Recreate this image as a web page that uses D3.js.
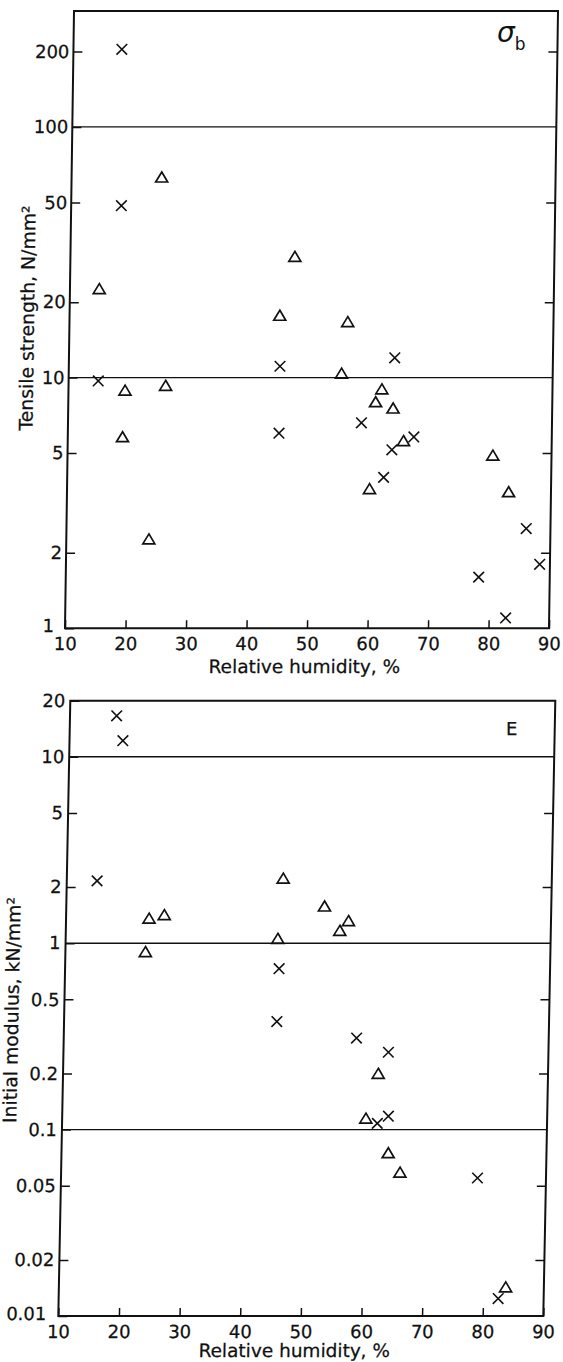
<!DOCTYPE html>
<html>
<head>
<meta charset="utf-8">
<title>Tensile strength and initial modulus vs relative humidity</title>
<script src="https://d3js.org/d3.v7.min.js"></script>
<style>
  body { margin: 0; background: #fff; }
  svg { display: block; font-family: "DejaVu Sans", sans-serif; }
  .domain { display: none; }
  .tick line { stroke: #111; stroke-width: 1.5; }
  .tick text { font-size: 18px; fill: #111; stroke: #111; stroke-width: 0.25; font-family: "DejaVu Sans", sans-serif; }
  .title { stroke: #111; stroke-width: 0.25; }
</style>
</head>
<body>
<svg width="563" height="1362"></svg>
<script>
// relative humidity axis, %
var humTicks = [10, 20, 30, 40, 50, 60, 70, 80, 90];

// top panel: tensile strength (sigma_b), N/mm2
var sigmaTicks = [1, 2, 5, 10, 20, 50, 100, 200];
var sigmaSideTicks = [2, 5, 20, 50, 200];
var sigmaLines = [10, 100];
var sigmaCrossX = [18.0, 18.3, 14.9, 44.9, 44.9, 63.85, 58.5, 63.6, 67.2, 62.3, 86.0, 88.3, 78.25, 82.8];
var sigmaCrossY = [204, 48.5, 9.7, 11.1, 6.0, 12.0, 6.6, 5.15, 5.8, 4.0, 2.5, 1.8, 1.6, 1.1];
var sigmaTriX = [14.85, 24.9, 19.05, 19.35, 26.05, 23.65, 44.75, 47.1, 56.0, 55.1, 61.8, 60.8, 63.7, 65.5, 60.0, 80.3, 83.0];
var sigmaTriY = [22.6, 63, 5.8, 8.9, 9.3, 2.27, 17.7, 30.4, 16.7, 10.4, 9.0, 8.0, 7.55, 5.6, 3.6, 4.9, 3.5];

// bottom panel: initial modulus (E), kN/mm2
var modTicks = [0.01, 0.02, 0.05, 0.1, 0.2, 0.5, 1, 2, 5, 10, 20];
var modSideTicks = [0.02, 0.05, 0.2, 0.5, 2, 5];
var modLines = [0.1, 1, 10];
var modCrossX = [17.7, 18.8, 15.0, 45.3, 45.1, 58.3, 63.6, 63.8, 62.0, 78.7, 82.5];
var modCrossY = [16.6, 12.2, 2.16, 0.73, 0.38, 0.31, 0.26, 0.118, 0.108, 0.055, 0.0124];
var modTriX = [23.7, 26.2, 23.2, 45.7, 45.0, 52.6, 56.6, 55.2, 62.0, 60.1, 63.9, 65.9, 83.7];
var modTriY = [1.36, 1.42, 0.90, 2.23, 1.06, 1.58, 1.32, 1.17, 0.20, 0.115, 0.075, 0.059, 0.0143];

var svg = d3.select("svg");
var ink = "#111";

function zip(xs, ys) {
  return xs.map(function(d, i) { return [d, ys[i]]; });
}

function panel(cfg) {
  // the scanned figure leans slightly, so each panel is sheared about its base
  var g = svg.append("g")
    .attr("transform", "translate(0," + cfg.bottom + ") skewX(" + cfg.skew + ") translate(0," + (-cfg.bottom) + ")");

  var x = d3.scaleLinear().domain([10, 90]).range([cfg.left, cfg.right]);
  var y = d3.scaleLog().domain(cfg.yDomain).range([cfg.bottom, cfg.top]);

  // full-width rules at the decades
  g.selectAll("line.rule").data(cfg.lines).enter()
    .append("line")
    .attr("class", "rule")
    .attr("x1", cfg.left).attr("x2", cfg.right)
    .attr("y1", function(d) { return y(d); })
    .attr("y2", function(d) { return y(d); })
    .attr("stroke", ink).attr("stroke-width", 1.4);

  var yAxis = g.append("g")
    .attr("transform", "translate(" + cfg.left + ",0)")
    .call(d3.axisLeft(y).tickValues(cfg.ticks).tickSize(-9).tickPadding(cfg.ypad)
      .tickFormat(function(d) { return String(d); }));

  // lowest label sits a little off the corner, clear of the "10"
  yAxis.selectAll(".tick text")
    .filter(function(d) { return d === cfg.yDomain[0]; })
    .attr("dx", -7).attr("dy", "0.2em");

  g.append("g")
    .attr("transform", "translate(" + cfg.right + ",0)")
    .call(d3.axisRight(y).tickValues(cfg.sideTicks).tickSize(-9).tickFormat(""));

  g.append("g")
    .attr("transform", "translate(0," + cfg.bottom + ")")
    .call(d3.axisBottom(x).tickValues(humTicks).tickSize(-8).tickPadding(9));

  g.append("rect")
    .attr("x", cfg.left).attr("y", cfg.top)
    .attr("width", cfg.right - cfg.left).attr("height", cfg.bottom - cfg.top)
    .attr("fill", "none").attr("stroke", ink).attr("stroke-width", 2);

  // crosses
  g.selectAll("path.cross").data(cfg.crosses).enter()
    .append("path")
    .attr("class", "cross")
    .attr("transform", function(d) { return "translate(" + x(d[0]) + "," + y(d[1]) + ")"; })
    .attr("d", "M-5.3,-5.3L5.3,5.3M-5.3,5.3L5.3,-5.3")
    .attr("stroke", ink).attr("stroke-width", 1.6).attr("fill", "none");

  // triangles
  g.selectAll("path.tri").data(cfg.tris).enter()
    .append("path")
    .attr("class", "tri")
    .attr("transform", function(d) { return "translate(" + x(d[0]) + "," + y(d[1]) + ")"; })
    .attr("d", "M0,-5.2L6,4.8L-6,4.8Z")
    .attr("stroke", ink).attr("stroke-width", 1.7).attr("fill", "none")
    .attr("stroke-linejoin", "miter");

  g.append("text")
    .attr("class", "title")
    .attr("transform", "translate(" + cfg.yTitleX + "," + cfg.yTitleY + ") rotate(-90)")
    .attr("text-anchor", "middle")
    .attr("font-size", 18.8).attr("fill", ink)
    .text(cfg.yTitle);

  g.append("text")
    .attr("class", "title")
    .attr("x", cfg.xTitleX).attr("y", cfg.xTitleY)
    .attr("text-anchor", "middle")
    .attr("font-size", 18.5).attr("fill", ink)
    .text("Relative humidity, %");
}

panel({
  left: 65, right: 549, top: 11, bottom: 628.3, skew: -0.836,
  yDomain: [1, 290], ticks: sigmaTicks, sideTicks: sigmaSideTicks, lines: sigmaLines, ypad: 4,
  crosses: zip(sigmaCrossX, sigmaCrossY), tris: zip(sigmaTriX, sigmaTriY),
  yTitle: "Tensile strength, N/mm²", yTitleX: 29.5, yTitleY: 318,
  xTitleX: 305, xTitleY: 673
});

panel({
  left: 58.3, right: 543.3, top: 700.7, bottom: 1316, skew: -1.117,
  yDomain: [0.01, 20], ticks: modTicks, sideTicks: modSideTicks, lines: modLines, ypad: 5,
  crosses: zip(modCrossX, modCrossY), tris: zip(modTriX, modTriY),
  yTitle: "Initial modulus, kN/mm²", yTitleX: 12.5, yTitleY: 1010,
  xTitleX: 295, xTitleY: 1357
});

// panel tags
var sig = svg.append("text").attr("x", 497).attr("y", 41.5).attr("fill", ink);
sig.append("tspan").attr("font-size", 28).attr("font-style", "italic").text("σ");
sig.append("tspan").attr("font-size", 17).attr("dy", 8).text("b");

svg.append("text").attr("x", 506).attr("y", 735)
  .attr("class", "title")
  .attr("font-size", 18).attr("fill", ink).text("E");
</script>
</body>
</html>
